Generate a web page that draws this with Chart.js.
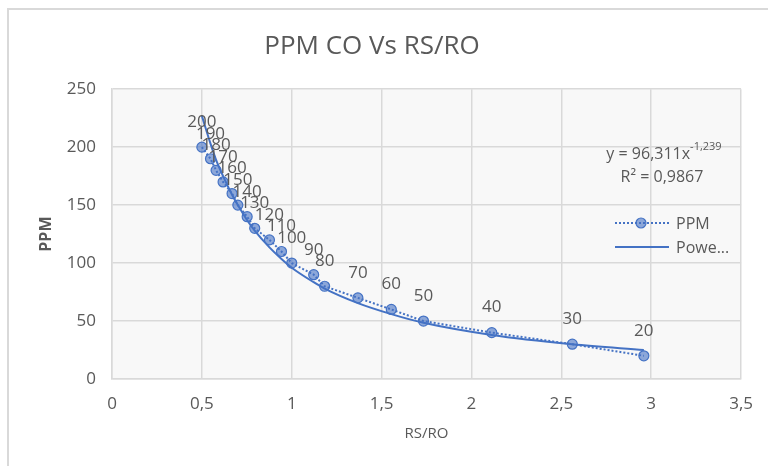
<!DOCTYPE html>
<html>
<head>
<meta charset="utf-8">
<script src="https://cdn.jsdelivr.net/npm/chart.js@4/dist/chart.umd.min.js"></script>
<style>
html, body { margin: 0; padding: 0; background: #fff; }
</style>
</head>
<body>
<canvas id="ppmChart" width="768" height="466"></canvas>
<script>
// values
const rsRo = [0.50, 0.548, 0.579, 0.618, 0.668, 0.70, 0.752, 0.794, 0.876, 0.943,
              1.00, 1.122, 1.183, 1.368, 1.554, 1.733, 2.113, 2.561, 2.959];
const ppm = [200, 190, 180, 170, 160, 150, 140, 130, 120, 110,
             100, 90, 80, 70, 60, 50, 40, 30, 20];
// power trendline as drawn in the picture, at the same RS/RO values
const trendPpm = [227, 203, 189, 175, 159, 150, 137, 128, 113.5, 103.5,
                  96, 83.5, 78, 65.5, 56, 48.5, 38, 30, 25];
const xTickLabels = ['0', '0,5', '1', '1,5', '2', '2,5', '3', '3,5'];
const yTickLabels = ['0', '50', '100', '150', '200', '250'];

const gray = '#595959';
const blue = '#4472C4';
const font = 'Open Sans';

const backdrop = {
    id: 'backdrop',
    beforeDraw(chart) {
        const c = chart.ctx, a = chart.chartArea;
        c.save();
        c.fillStyle = '#fff';
        c.fillRect(0, 0, chart.width, chart.height);
        c.strokeStyle = '#d9d9d9';
        c.lineWidth = 2;
        c.strokeRect(8, 9, 900, 600);
        c.fillStyle = '#f8f8f8';
        c.fillRect(a.left, a.top, a.right - a.left, a.bottom - a.top);
        c.restore();
    }
};

const pointLabels = {
    id: 'pointLabels',
    afterDatasetsDraw(chart) {
        const c = chart.ctx;
        const meta = chart.getDatasetMeta(1);
        c.save();
        c.font = '17px "' + font + '"';
        c.fillStyle = gray;
        c.textAlign = 'center';
        c.textBaseline = 'middle';
        meta.data.forEach((pt, i) => {
            c.fillText(String(ppm[i]), pt.x, pt.y - 25);
        });
        c.restore();
    }
};

const extras = {
    id: 'extras',
    afterDraw(chart) {
        const c = chart.ctx;
        c.save();
        // trendline equation
        c.fillStyle = gray;
        c.textBaseline = 'middle';
        c.textAlign = 'left';
        c.font = '16px "' + font + '"';
        const eq = 'y = 96,311x';
        c.font = '16px "' + font + '"';
        const w1 = c.measureText(eq).width;
        c.font = '11px "' + font + '"';
        const w2 = c.measureText('-1,239').width;
        let x0 = 664 - (w1 + w2) / 2;
        c.font = '16px "' + font + '"';
        c.fillText(eq, x0, 154);
        c.font = '11px "' + font + '"';
        c.fillText('-1,239', x0 + w1, 147);
        c.font = '16px "' + font + '"';
        c.textAlign = 'center';
        c.fillText('R² = 0,9867', 662, 177);

        // legend
        c.strokeStyle = blue;
        c.lineWidth = 2;
        c.setLineDash([2, 2]);
        c.beginPath();
        c.moveTo(615, 223);
        c.lineTo(669, 223);
        c.stroke();
        c.setLineDash([]);
        c.beginPath();
        c.arc(641, 223, 5, 0, Math.PI * 2);
        c.fillStyle = 'rgba(68, 114, 196, 0.6)';
        c.fill();
        c.lineWidth = 1.2;
        c.stroke();
        c.lineWidth = 2;
        c.beginPath();
        c.moveTo(615, 247);
        c.lineTo(669, 247);
        c.stroke();
        c.fillStyle = gray;
        c.textAlign = 'left';
        c.font = '16px "' + font + '"';
        c.fillText('PPM', 676, 224);
        c.fillText('Powe...', 676, 248);
        c.restore();
    }
};

const ctx = document.getElementById('ppmChart').getContext('2d');
const ppmChart = new Chart(ctx, {
    type: 'scatter',
    data: {
        datasets: [{
            label: 'Power (PPM)',
            data: rsRo.map((x, i) => ({ x: x, y: trendPpm[i] })),
            showLine: true,
            borderColor: blue,
            borderWidth: 2,
            pointRadius: 0,
            cubicInterpolationMode: 'monotone',
            order: 0
        }, {
            label: 'PPM',
            data: rsRo.map((x, i) => ({ x: x, y: ppm[i] })),
            showLine: true,
            borderColor: blue,
            borderWidth: 2,
            borderDash: [2, 2],
            pointRadius: 5,
            pointBorderWidth: 1.2,
            pointBackgroundColor: 'rgba(68, 114, 196, 0.6)',
            pointBorderColor: blue,
            order: 1
        }]
    },
    options: {
        responsive: false,
        animation: false,
        layout: {
            padding: { left: 0, right: 24, top: 0, bottom: 0 }
        },
        plugins: {
            legend: { display: false },
            tooltip: { enabled: false },
            title: {
                display: true,
                text: 'PPM CO Vs RS/RO',
                color: gray,
                font: { size: 26, family: font, weight: 'normal' },
                padding: { top: 31, bottom: 27 }
            }
        },
        scales: {
            x: {
                type: 'linear',
                min: 0,
                max: 3.5,
                afterFit(scale) { scale.height = 87; },
                grid: { color: '#d9d9d9', lineWidth: 1.5, drawTicks: false },
                border: { color: '#d9d9d9', width: 1.5 },
                ticks: {
                    stepSize: 0.5,
                    padding: 15,
                    color: gray,
                    font: { size: 17, family: font },
                    callback: (v) => xTickLabels[Math.round(v / 0.5)]
                },
                title: {
                    display: true,
                    text: 'RS/RO',
                    color: gray,
                    font: { size: 15, family: font },
                    padding: { top: 0, bottom: 23 }
                }
            },
            y: {
                min: 0,
                max: 250,
                afterFit(scale) { scale.width = 112; },
                grid: { color: '#d9d9d9', lineWidth: 1.5, drawTicks: false },
                border: { color: '#d9d9d9', width: 1.5 },
                ticks: {
                    stepSize: 50,
                    padding: 16,
                    color: gray,
                    font: { size: 17, family: font },
                    callback: (v) => yTickLabels[Math.round(v / 50)]
                },
                title: {
                    display: true,
                    text: 'PPM',
                    color: gray,
                    font: { size: 16, family: font, weight: 'bold' },
                    padding: { top: 37, bottom: 0 }
                }
            }
        }
    },
    plugins: [backdrop, pointLabels, extras]
});
</script>
</body>
</html>
